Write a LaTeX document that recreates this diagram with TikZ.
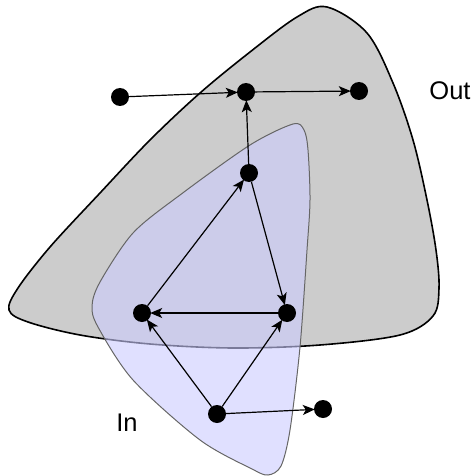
\documentclass[tikz,border=0pt]{standalone}
\usepackage{fontspec}
\setmainfont{Liberation Sans}
\usetikzlibrary{arrows.meta}
\definecolor{outfill}{HTML}{CCCCCC}
\definecolor{infill}{HTML}{CCCCFF}
\tikzset{
  dot/.style={circle,fill=black,inner sep=0pt,minimum size=18pt},
  arr/.style={line width=1.2pt,-{Stealth[length=12pt,width=10pt,inset=3pt]},shorten >=-1pt},
  lbl/.style={font=\fontsize{25.5}{30}\selectfont,inner sep=0pt},
}
\begin{document}
\begin{tikzpicture}[x=1pt,y=-1pt]
\useasboundingbox (0,0) rectangle (476,476);
% Out region
\draw[fill=outfill,line width=1.6pt] plot[smooth cycle,tension=0.55] coordinates {
 (327,7) (367,33) (393,83) (413,140) (427,200) (436,250) (439,288) (433,316)
 (400,335) (320,345) (233,348) (150,344) (80,335) (28,322) (9,310) (18,288)
 (50,247) (100,193) (150,140) (200,93) (250,52) (297,17)};
% In region
\draw[fill=infill,fill opacity=0.6,draw=black!60,line width=1pt] plot[smooth cycle,tension=0.5] coordinates {
 (293,124) (304,130) (308,150) (310,200) (307,250) (300,347) (290,430) (281,466)
 (268,475) (252,469) (200,440) (133,380) (98,327) (92,306) (100,282) (133,233)
 (180,195) (250,145)};
% nodes
\node[dot] (A) at (120,97) {};
\node[dot] (B) at (246,92) {};
\node[dot] (C) at (359,91) {};
\node[dot] (D) at (249,173) {};
\node[dot] (E) at (142,313) {};
\node[dot] (F) at (287,313) {};
\node[dot] (G) at (217,414) {};
\node[dot] (H) at (323,409) {};
% edges
\draw[arr] (A) -- (B);
\draw[arr] (B) -- (C);
\draw[arr] (D) -- (B);
\draw[arr] (E) -- (D);
\draw[arr] (D) -- (F);
\draw[arr] (F) -- (E);
\draw[arr] (G) -- (E);
\draw[arr] (G) -- (F);
\draw[arr] (G) -- (H);
% labels
\node[lbl] (out) at (450,91) {Out};
\node[lbl] (in) at (127,423) {In};
\end{tikzpicture}
\end{document}
